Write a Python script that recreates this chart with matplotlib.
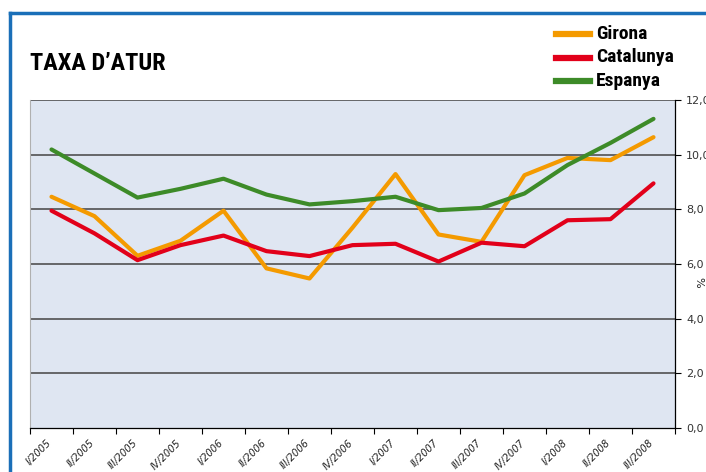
import matplotlib
matplotlib.use("Agg")
import matplotlib.pyplot as plt
from matplotlib.lines import Line2D
from matplotlib import font_manager
import numpy as np

categories = ["I/2005", "II/2005", "III/2005", "IV/2005", "I/2006", "II/2006", "III/2006",
              "IV/2006", "I/2007", "II/2007", "III/2007", "IV/2007", "I/2008", "II/2008", "III/2008"]
girona = [8.46, 7.75, 6.30, 6.85, 7.95, 5.84, 5.47, 7.33, 9.29, 7.08, 6.81, 9.25, 9.88, 9.80, 10.64]
catalunya = [7.95, 7.12, 6.14, 6.69, 7.04, 6.47, 6.29, 6.69, 6.74, 6.09, 6.78, 6.65, 7.60, 7.64, 8.95]
espanya = [10.19, 9.31, 8.43, 8.75, 9.12, 8.54, 8.18, 8.30, 8.46, 7.97, 8.05, 8.58, 9.62, 10.43, 11.31]
series_names = ["Girona", "Catalunya", "Espanya"]
colors = ["#F49A00", "#E2001A", "#3D8B28"]
yticks = [0, 2, 4, 6, 8, 10, 12]

available = {f.name for f in font_manager.fontManager.ttflist}
condensed_fams = [f for f in ["Liberation Sans Narrow", "Roboto Condensed", "DejaVu Sans Condensed"]
                  if f in available]
if condensed_fams:
    narrow = condensed_fams + ["DejaVu Sans"]
    title_size, leg_size = 17.5, 14
else:
    narrow = ["Roboto", "DejaVu Sans"]
    title_size, leg_size = 15, 12

fig = plt.figure(figsize=(7.06, 4.72), dpi=100)
ax = fig.add_axes([30/706, 1-428/472, 645/706, 328/472])
ax.set_facecolor("#DFE6F2")

x = np.arange(len(categories))
for vals, c in zip([girona, catalunya, espanya], colors):
    ax.plot(x, vals, color=c, lw=3.0, solid_capstyle="round", solid_joinstyle="round", zorder=3)

ax.set_xlim(-0.5, len(categories) - 0.5)
ax.set_ylim(0, 12)
ax.yaxis.tick_right()
ax.set_yticks(yticks)
ax.set_yticklabels([f"{v:.1f}".replace(".", ",") for v in yticks], fontsize=8, color="#333333")
for v in yticks[1:]:
    ax.axhline(v, color="#444444", lw=1.1, zorder=1)
ax.tick_params(axis="y", direction="out", length=4, width=0.8, pad=4)

ax.set_xticks(np.arange(len(categories) + 1) - 0.5)
ax.set_xticklabels([])
ax.tick_params(axis="x", direction="out", length=4, width=0.8)
for i, lab in enumerate(categories):
    ax.text(i + 0.05, -0.35, lab, rotation=45, ha="right", va="top", fontsize=7,
            fontstyle="italic", color="#222222", transform=ax.transData, clip_on=False)

ax.spines["top"].set_visible(False)
ax.spines["left"].set_color("#B0B0B0")
ax.spines["right"].set_color("black")
ax.spines["bottom"].set_color("black")
ax.spines["right"].set_linewidth(0.9)
ax.spines["bottom"].set_linewidth(0.9)

fig.text(698/706, 1-282/472, "%", rotation=270, fontsize=8, ha="center", va="center", color="#222222")

# frame
fig.add_artist(Line2D([10/706, 10/706], [0, 1-13/472], color="#1A6FB8", lw=2.5, transform=fig.transFigure))
fig.add_artist(Line2D([10/706, 1], [1-13/472, 1-13/472], color="#1A6FB8", lw=2.5, transform=fig.transFigure))

fig.text(30/706, 1-63/472, "TAXA D\u2019ATUR", fontsize=title_size, fontweight="bold", family=narrow,
         ha="left", va="center", color="black")

for k, (name, c) in enumerate(zip(series_names, colors)):
    yy = 1 - (34 + k * 23.5) / 472
    fig.add_artist(Line2D([556/706, 590/706], [yy, yy], color=c, lw=4.5, transform=fig.transFigure))
    fig.text(596/706, yy, name, fontsize=leg_size, fontweight="bold", family=narrow,
             ha="left", va="center", color="black")

fig.savefig("out.png", dpi=100)
